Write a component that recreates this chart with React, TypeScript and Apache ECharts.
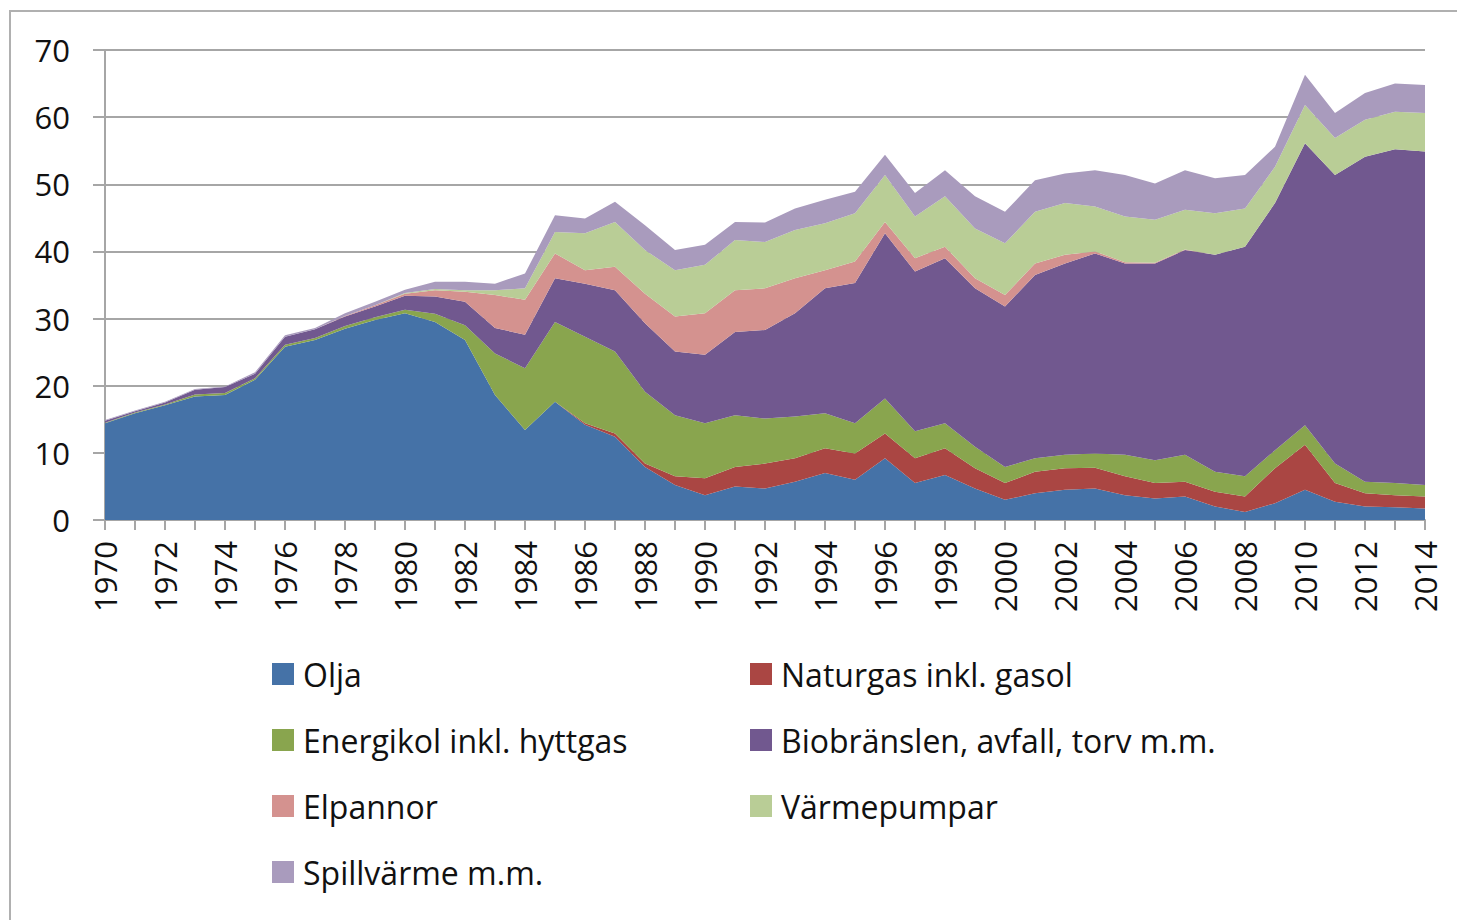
import React, { useEffect, useRef } from "react";
import * as echarts from "echarts";

const years: string[] = [];
for (let y = 1970; y <= 2014; y++) years.push(String(y));

const olja = [14.4, 15.9, 17.1, 18.4, 18.6, 20.9, 25.8, 26.8, 28.5, 29.8, 30.8, 29.5, 26.8, 18.6, 13.4, 17.6, 14.2, 12.4, 7.9, 5.2, 3.7, 5.0, 4.7, 5.7, 7.0, 6.0, 9.2, 5.5, 6.7, 4.7, 3.0, 4.0, 4.5, 4.7, 3.7, 3.2, 3.5, 2.0, 1.2, 2.5, 4.5, 2.7, 2.0, 1.9, 1.7];
const naturgas = [0, 0, 0, 0, 0, 0, 0, 0, 0, 0, 0, 0, 0, 0, 0, 0, 0.2, 0.5, 0.5, 1.3, 2.5, 2.9, 3.7, 3.5, 3.7, 3.9, 3.7, 3.7, 4.0, 3.0, 2.5, 3.2, 3.2, 3.1, 2.8, 2.3, 2.2, 2.2, 2.3, 5.2, 6.7, 2.8, 2.0, 1.8, 1.8];
const energikol = [0.1, 0.1, 0.1, 0.3, 0.3, 0.2, 0.3, 0.3, 0.4, 0.4, 0.5, 1.2, 2.2, 6.2, 9.2, 11.9, 12.9, 12.2, 10.7, 9.1, 8.2, 7.7, 6.7, 6.2, 5.2, 4.5, 5.2, 4.0, 3.7, 3.2, 2.4, 2.0, 2.0, 2.1, 3.2, 3.4, 4.0, 3.0, 3.0, 2.7, 2.9, 2.9, 1.7, 1.8, 1.7];
const bio = [0.3, 0.2, 0.3, 0.7, 0.9, 0.7, 1.2, 1.3, 1.4, 1.6, 2.1, 2.6, 3.5, 3.8, 5.0, 6.5, 7.9, 9.1, 10.2, 9.5, 10.2, 12.4, 13.2, 15.4, 18.6, 20.9, 24.6, 23.8, 24.6, 23.6, 23.9, 27.3, 28.5, 29.8, 28.5, 29.3, 30.5, 32.3, 34.2, 36.8, 42.0, 43.0, 48.4, 49.7, 49.7];
const elpannor = [0, 0, 0, 0, 0, 0, 0, 0, 0.1, 0.2, 0.3, 0.9, 1.5, 4.9, 5.2, 3.7, 2.0, 3.5, 4.4, 5.2, 6.2, 6.2, 6.2, 5.2, 2.7, 3.2, 1.7, 2.0, 1.7, 1.5, 1.7, 1.7, 1.3, 0.3, 0.2, 0.1, 0.1, 0, 0, 0, 0, 0, 0, 0, 0];
const varmepumpar = [0, 0, 0, 0, 0, 0, 0, 0, 0, 0, 0.1, 0.2, 0.2, 0.7, 1.7, 3.2, 5.5, 6.7, 6.5, 6.9, 7.2, 7.5, 6.9, 7.2, 7.0, 7.2, 7.0, 6.2, 7.5, 7.4, 7.7, 7.7, 7.7, 6.7, 6.8, 6.4, 5.9, 6.2, 5.7, 5.4, 5.7, 5.5, 5.5, 5.6, 5.7];
const spillvarme = [0.1, 0.1, 0.1, 0.1, 0.1, 0.2, 0.2, 0.2, 0.4, 0.5, 0.5, 1.1, 1.3, 1.0, 2.2, 2.5, 2.2, 3.0, 3.7, 3.0, 3.0, 2.7, 2.9, 3.2, 3.5, 3.2, 3.0, 3.5, 3.9, 4.8, 4.7, 4.7, 4.4, 5.4, 6.2, 5.4, 5.9, 5.2, 5.0, 3.0, 4.5, 3.7, 4.0, 4.2, 4.2];

const seriesNames = [
  "Olja",
  "Naturgas inkl. gasol",
  "Energikol inkl. hyttgas",
  "Biobränslen, avfall, torv m.m.",
  "Elpannor",
  "Värmepumpar",
  "Spillvärme m.m.",
];
const seriesData = [olja, naturgas, energikol, bio, elpannor, varmepumpar, spillvarme];
const colors = ["#4572A7", "#AA4643", "#89A54E", "#71588F", "#D4928F", "#B9CD96", "#A99BBD"];

const FONT = "Open Sans";
const TEXT = "#111111";
const GRIDC = "#a6a6a6";

export default function App() {
  const ref = useRef<HTMLDivElement>(null);
  useEffect(() => {
    if (!ref.current) return;
    const chart = echarts.init(ref.current, null, { renderer: "svg" });
    const legendCommon = {
      orient: "vertical" as const,
      top: 658,
      padding: 0,
      itemWidth: 22,
      itemHeight: 22,
      itemGap: 34,
      icon: "rect",
      textStyle: { fontFamily: FONT, fontSize: 32, color: TEXT, lineHeight: 32, padding: [0, 0, 0, 4] },
    };
    chart.setOption({
      animation: false,
      color: colors,
      textStyle: { fontFamily: FONT },
      graphic: [
        {
          type: "rect",
          shape: { x: 10, y: 11, width: 1500, height: 1000 },
          style: { fill: "none", stroke: "#b0b0b0", lineWidth: 2 },
          silent: true,
        },
      ],
      legend: [
        { ...legendCommon, left: 272, data: [seriesNames[0], seriesNames[2], seriesNames[4], seriesNames[6]] },
        { ...legendCommon, left: 750, data: [seriesNames[1], seriesNames[3], seriesNames[5]] },
      ],
      grid: { left: 105, top: 50, right: 32, bottom: 400, containLabel: false },
      xAxis: {
        type: "category",
        data: years,
        boundaryGap: false,
        axisLine: { lineStyle: { color: GRIDC, width: 2 } },
        axisTick: { show: true, interval: 0, length: 10, lineStyle: { color: GRIDC, width: 2 } },
        axisLabel: {
          interval: 1,
          rotate: 90,
          margin: 21,
          fontFamily: FONT,
          fontSize: 31,
          color: TEXT,
        },
        splitLine: { show: false },
      },
      yAxis: {
        type: "value",
        min: 0,
        max: 70,
        interval: 10,
        axisLine: { show: true, lineStyle: { color: GRIDC, width: 2 } },
        axisTick: { show: true, length: 12, lineStyle: { color: GRIDC, width: 2 } },
        axisLabel: { margin: 35, fontFamily: FONT, fontSize: 31, color: TEXT },
        splitLine: { show: true, lineStyle: { color: GRIDC, width: 2 } },
      },
      series: seriesNames.map((name, i) => ({
        name,
        type: "line",
        stack: "total",
        data: seriesData[i],
        symbol: "none",
        showSymbol: false,
        lineStyle: { width: 0 },
        areaStyle: { color: colors[i], opacity: 1 },
        itemStyle: { color: colors[i] },
        z: 2,
      })),
    });
    return () => chart.dispose();
  }, []);
  return (
    <div
      ref={ref}
      style={{ position: "absolute", left: 0, top: 0, width: 1457, height: 920, background: "#fff" }}
    />
  );
}
